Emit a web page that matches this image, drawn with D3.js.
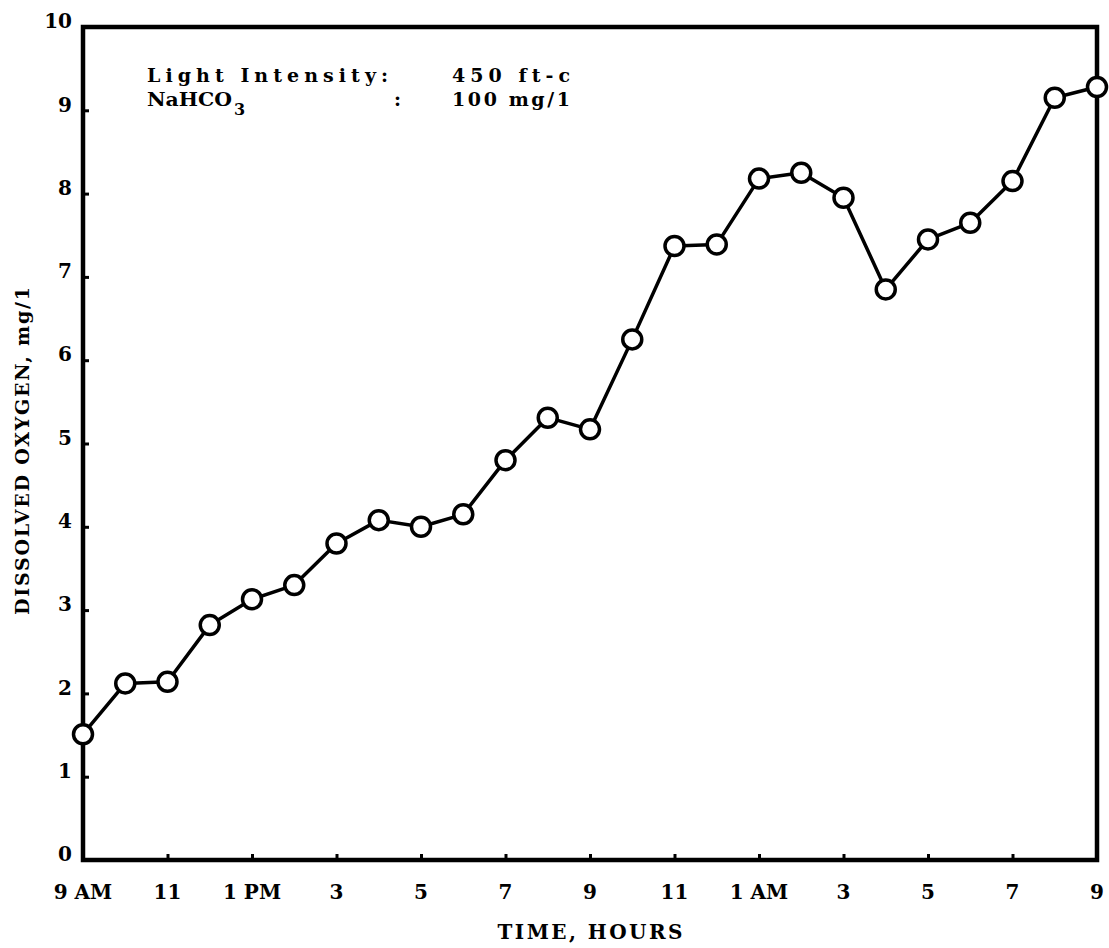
<!DOCTYPE html>
<html>
<head>
<meta charset="utf-8">
<script src="https://cdn.jsdelivr.net/npm/d3@7"></script>
<style>
  html, body { margin: 0; padding: 0; background: #fff; }
  svg { display: block; }
  text { fill: #000; }
</style>
</head>
<body>
<svg id="chart" width="1109" height="948"></svg>
<script>
// ---- data ----
const hours = [0,1,2,3,4,5,6,7,8,9,10,11,12,13,14,15,16,17,18,19,20,21,22,23,24];
const oxygen = [1.51,2.12,2.14,2.82,3.13,3.30,3.80,4.08,4.00,4.15,4.80,5.31,5.17,6.25,7.37,7.39,8.18,8.25,7.95,6.85,7.45,7.65,8.15,9.15,9.28];
const xTickHours = [0,2,4,6,8,10,12,14,16,18,20,22,24];
const xTickLabels = ["9 AM","11","1 PM","3","5","7","9","11","1 AM","3","5","7","9"];
const yTicks = [0,1,2,3,4,5,6,7,8,9,10];
const xTitle = "TIME, HOURS";
const yTitle = "DISSOLVED OXYGEN, mg/1";
const note1 = ["Light Intensity:", "450 ft-c"];
const note2 = ["NaHCO", "3", ":", "100 mg/1"];

// ---- layout ----
const svg = d3.select("#chart");
const L = 83, R = 1097, T = 27, B = 860;
const x = d3.scaleLinear().domain([0, 24]).range([L, R]);
const y = d3.scaleLinear().domain([0, 10]).range([B, T]);

const serif = "'DejaVu Serif', 'Liberation Serif', serif";

// frame
svg.append("rect")
  .attr("x", L).attr("y", T).attr("width", R - L).attr("height", B - T)
  .attr("fill", "none").attr("stroke", "#000").attr("stroke-width", 4.5);

// y axis (ticks inward)
const yAxis = d3.axisRight(y).tickValues(yTicks).tickSize(6).tickFormat("");
const yg = svg.append("g").attr("transform", `translate(${L},0)`).call(yAxis);
yg.select(".domain").remove();
yg.selectAll(".tick line").attr("stroke", "#000").attr("stroke-width", 3);

svg.append("g").selectAll("text").data(yTicks).join("text")
  .attr("x", 72).attr("y", d => y(d) - 6)
  .attr("dy", "0.36em")
  .attr("text-anchor", "end")
  .attr("font-family", serif).attr("font-weight", "bold").attr("font-size", 20)
  .text(d => d);

// x axis (ticks inward)
const xAxis = d3.axisTop(x).tickValues(xTickHours).tickSize(6).tickFormat("");
const xg = svg.append("g").attr("transform", `translate(0,${B})`).call(xAxis);
xg.select(".domain").remove();
xg.selectAll(".tick line").attr("stroke", "#000").attr("stroke-width", 3);

svg.append("g").selectAll("text").data(xTickHours).join("text")
  .attr("x", d => x(d)).attr("y", 892)
  .attr("dy", "0.36em")
  .attr("text-anchor", "middle")
  .attr("font-family", serif).attr("font-weight", "bold").attr("font-size", 20)
  .text((d, i) => xTickLabels[i]);

// axis titles
svg.append("text")
  .attr("x", (L + R) / 2).attr("y", 932).attr("dy", "0.36em")
  .attr("text-anchor", "middle")
  .attr("font-family", serif).attr("font-weight", "bold").attr("font-size", 20)
  .attr("textLength", 185).attr("lengthAdjust", "spacing")
  .text(xTitle);

svg.append("text")
  .attr("transform", `translate(22,451) rotate(-90)`)
  .attr("dy", "0.36em")
  .attr("text-anchor", "middle")
  .attr("font-family", serif).attr("font-weight", "bold").attr("font-size", 19)
  .attr("textLength", 328).attr("lengthAdjust", "spacing")
  .text(yTitle);

// annotation
const ann = svg.append("g")
  .attr("font-family", serif).attr("font-weight", "bold").attr("font-size", 19);
ann.append("text").attr("x", 147).attr("y", 82)
  .attr("textLength", 241).attr("lengthAdjust", "spacing").text(note1[0]);
ann.append("text").attr("x", 452).attr("y", 82)
  .attr("textLength", 118).attr("lengthAdjust", "spacing").text(note1[1]);
ann.append("text").attr("x", 147).attr("y", 106)
  .attr("textLength", 85).attr("lengthAdjust", "spacingAndGlyphs").text(note2[0]);
ann.append("text").attr("x", 234).attr("y", 115).attr("font-size", 16).text(note2[1]);
ann.append("text").attr("x", 394).attr("y", 106).text(note2[2]);
ann.append("text").attr("x", 452).attr("y", 106)
  .attr("textLength", 118).attr("lengthAdjust", "spacing").text(note2[3]);

// line + markers
const line = d3.line().x((d, i) => x(hours[i])).y(d => y(d));
svg.append("path")
  .datum(oxygen)
  .attr("d", line)
  .attr("fill", "none").attr("stroke", "#000").attr("stroke-width", 3.5)
  .attr("stroke-linejoin", "round");

svg.append("g").selectAll("circle").data(oxygen).join("circle")
  .attr("cx", (d, i) => x(hours[i])).attr("cy", d => y(d))
  .attr("r", 9.5)
  .attr("fill", "#fff").attr("stroke", "#000").attr("stroke-width", 3.5);
</script>
</body>
</html>
